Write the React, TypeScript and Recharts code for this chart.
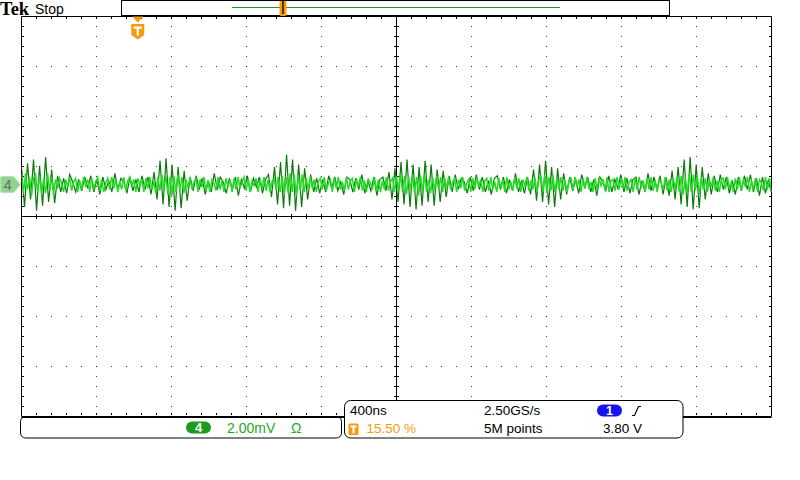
import React from "react";
import { LineChart, Line, XAxis, YAxis, ReferenceLine } from "recharts";

// ---------- scope settings ----------
const W = 800;
const H = 480;
const PLOT_LEFT = 21.5;
const PLOT_TOP = 16.5;
const PLOT_W = 750;
const PLOT_H = 400;

const H_DIVS = 10;
const V_DIVS = 8;
const TIME_PER_DIV_NS = 400;
const MV_PER_DIV = 2;
const TRIGGER_POS_PCT = 15.5;
const CH4_POSITION_DIV = 0.64;

const T_SPAN = H_DIVS * TIME_PER_DIV_NS;
const T_START = (-TRIGGER_POS_PCT / 100) * T_SPAN;
const T_END = T_START + T_SPAN;
const V_HALF = (V_DIVS / 2) * MV_PER_DIV;
const CH4_OFFSET_MV = CH4_POSITION_DIV * MV_PER_DIV;

const NS_PER_PX = T_SPAN / PLOT_W;
const MV_PER_PX = (2 * V_HALF) / PLOT_H;

const X_GRID_DIVS = [1, 2, 3, 4, 6, 7, 8, 9];
const Y_GRID_DIVS = [-3, -2, -1, 1, 2, 3];

// ---------- readout labels ----------
const SCOPE_STATE = "Stop";
const CH_LABEL = "4";
const CH_SCALE = "2.00mV";
const CH_COUPLING = "Ω";
const TIMEBASE = "400ns";
const SAMPLE_RATE = "2.50GS/s";
const RECORD_LEN = "5M points";
const TRIG_SOURCE = "1";
const TRIG_LEVEL = "3.80 V";
const TRIG_POS_LABEL = "15.50 %";

// ---------- trace (mV relative to channel ground) ----------
// less frequent excursions (dark green, intensity-graded)
const DARK_NOISE_MV = [
  0.7, -0.9, 0.85, -0.6, 1.0, -1.05, 0.75, -0.85, 1.1, -0.7,
  0.6, -0.75, 0.35, -0.3, 0.25, -0.35, 0.4, 0.1, -0.3, 0.2,
  -0.25, 0.3, -0.15, 0.35, -0.3, 0.2, -0.4, 0.3, -0.2, 0.15,
  -0.3, 0.45, -0.2, 0.25, 0.1, -0.35, 0.3, -0.25, 0.2, -0.3,
  0.35, -0.2, 0.3, -0.4, 0.5, -0.6, 0.95, -0.8, 1.05, -0.9,
  0.8, -1.05, 0.7, -0.95, 0.55, -0.65, 0.3, -0.25, 0.35, -0.2,
  0.25, -0.4, 0.15, -0.3, 0.45, -0.2, 0.3, 0.1, -0.35, 0.25,
  -0.2, 0.3, -0.45, 0.2, -0.15, 0.35, -0.3, 0.25, -0.1, 0.3,
  -0.35, 0.2, 0.4, -0.5, 0.7, -0.8, 0.9, -0.95, 1.2, -0.85,
  1.0, -1.05, 0.8, -0.9, 0.65, -0.6, 0.4, -0.3, 0.25, -0.35,
  0.2, -0.3, 0.35, -0.15, 0.3, -0.25, 0.1, -0.4, 0.3, 0.2,
  -0.3, 0.25, -0.2, 0.4, -0.35, 0.15, -0.25, 0.3, -0.45, 0.2,
  0.3, -0.25, 0.5, -0.6, 0.65, -0.7, 0.9, -0.8, 1.0, -0.9,
  0.8, -1.0, 0.7, -0.85, 0.95, -0.7, 0.8, -0.85, 0.6, -0.7,
  0.55, -0.5, 0.35, -0.3, 0.4, -0.2, 0.25, 0.1, -0.35, 0.3,
  -0.25, 0.4, -0.2, 0.3, -0.3, 0.15, -0.4, 0.25, 0.35, -0.2,
  0.3, -0.35, 0.2, -0.25, 0.45, -0.3, 0.15, -0.35, 0.3, -0.4,
  0.6, -0.65, 0.8, -0.7, 0.95, -0.8, 0.7, -0.9, 0.65, -0.6,
  0.45, -0.4, 0.3, -0.25, 0.2, -0.35, 0.4, -0.15, 0.3, -0.3,
  0.2, -0.45, 0.3, 0.1, -0.25, 0.35, -0.3, 0.2, -0.15, 0.4,
  -0.3, 0.25, -0.35, 0.2, 0.3, -0.4, 0.15, -0.3, 0.45, -0.25,
  0.3, -0.2, 0.35, -0.4, 0.3, -0.45, 0.55, -0.6, 0.7, -0.8,
  1.0, -0.9, 1.1, -1.0, 0.8, -0.95, 0.7, -0.6, 0.45, -0.4,
  0.35, -0.3, 0.4, -0.2, 0.3, -0.35, 0.15, -0.4, 0.3, -0.25,
  0.35, -0.2, 0.4, -0.3, 0.25, -0.45, 0.3, -0.35, 0.2, -0.3,
];

// dense core of the trace (bright green)
const BRIGHT_NOISE_MV = [
  0.4, -0.35, 0.45, -0.2, 0.3, -0.45, 0.25, 0.4, -0.3, 0.35, -0.4, 0.2, -0.35, 0.45, -0.25,
  0.3, -0.4, 0.2, -0.15, 0.25, 0.05, -0.3, 0.2, -0.1, 0.3, -0.25, 0.1, 0.25, -0.3, 0.15,
  -0.2, 0.3, -0.05, 0.2, -0.3, 0.25, -0.15, 0.1, 0.3, -0.25, 0.2, -0.3, 0.05, 0.25, -0.2,
  0.3, -0.15, 0.2, -0.3, 0.1, -0.2, 0.3, -0.25, 0.15, 0.3, -0.1, 0.2, -0.3, 0.25, -0.05,
  0.2, -0.3, 0.25, -0.15, 0.3, -0.2, 0.1, -0.35, 0.3, -0.25, 0.4, -0.2, 0.35, -0.4, 0.3,
  -0.45, 0.35, -0.3, 0.4, -0.25, 0.3, -0.35, 0.2, -0.15, 0.3, -0.2, 0.1, 0.25, -0.3, 0.2,
  -0.1, 0.3, -0.25, 0.15, -0.3, 0.2, 0.05, -0.25, 0.3, -0.2, 0.15, -0.3, 0.25, -0.1, 0.2,
  -0.3, 0.25, -0.2, 0.3, -0.15, 0.1, 0.3, -0.25, 0.2, -0.3, 0.15, -0.05, 0.25, -0.3, 0.2,
  -0.15, 0.3, -0.25, 0.2, -0.3, 0.15, 0.25, -0.2, 0.3, -0.3, 0.35, -0.4, 0.3, -0.35, 0.45,
  -0.3, 0.4, -0.45, 0.35, -0.25, 0.4, -0.3, 0.25, -0.2, 0.3, -0.15, 0.2, -0.3, 0.1, 0.25,
  -0.2, 0.3, -0.25, 0.05, 0.2, -0.3, 0.25, -0.15, 0.3, -0.2, 0.1, -0.25, 0.3, -0.2, 0.15,
  0.25, -0.3, 0.2, -0.1, 0.3, -0.25, 0.15, -0.3, 0.2, 0.05, -0.2, 0.3, -0.25, 0.2, -0.3,
  0.15, -0.2, 0.3, -0.25, 0.1, 0.25, -0.3, 0.35, -0.25, 0.4, -0.3, 0.35, -0.4, 0.3, -0.2,
  0.4, -0.35, 0.3, -0.45, 0.35, -0.25, 0.4, -0.3, 0.2, -0.35, 0.3, -0.25, 0.35, -0.2, 0.3,
  -0.3, 0.25, -0.15, 0.3, -0.2, 0.1, 0.25, -0.3, 0.2, -0.15, 0.3, -0.25, 0.05, 0.2, -0.3,
  0.25, -0.2, 0.3, -0.1, 0.2, -0.3, 0.15, 0.25, -0.25, 0.3, -0.2, 0.1, -0.3, 0.25, -0.15,
  0.2, -0.3, 0.3, -0.2, 0.1, -0.25, 0.3, -0.15, 0.25, -0.3, 0.2, -0.05, 0.3, -0.25, 0.15,
  -0.2, 0.3, -0.3, 0.2, 0.35, -0.3, 0.4, -0.35, 0.3, -0.25, 0.4, -0.3, 0.25, -0.2, 0.3,
  -0.25, 0.2, -0.3, 0.15, 0.25, -0.2, 0.3, -0.1, 0.2, -0.3, 0.25, -0.15, 0.3, -0.2, 0.1,
  -0.3, 0.25, -0.2, 0.3, -0.05, 0.2, -0.25, 0.3, -0.3, 0.15, 0.2, -0.25, 0.3, -0.2, 0.25,
  -0.15, 0.3, -0.25, 0.1, 0.2, -0.3, 0.25, -0.2, 0.3, -0.1, 0.15, -0.3, 0.25, -0.2, 0.3,
  -0.25, 0.15, -0.3, 0.2, 0.05, -0.2, 0.3, -0.25, 0.2, -0.3, 0.25, -0.15, 0.3, -0.3, 0.35,
  -0.4, 0.3, -0.35, 0.45, -0.3, 0.4, -0.25, 0.35, -0.4, 0.3, -0.2, 0.25, -0.3, 0.2, -0.1,
  0.3, -0.25, 0.15, -0.3, 0.2, 0.25, -0.2, 0.3, -0.15, 0.1, -0.3, 0.25, -0.2, 0.3, -0.25,
  0.2, -0.1, 0.3, -0.3, 0.15, -0.2, 0.25, -0.3, 0.2, 0.05, -0.25, 0.3, -0.2, 0.25, -0.3,
];

const toSeries = (vals: number[]) =>
  vals.map((v, i) => ({
    t: T_START + (i * T_SPAN) / (vals.length - 1),
    v: v + CH4_OFFSET_MV,
  }));

const darkData = toSeries(DARK_NOISE_MV);
const brightData = toSeries(BRIGHT_NOISE_MV);

const ORANGE = "#f89a10";
const GREEN_TXT = "#1fa81f";
const FONT = "'Liberation Sans', Arial, sans-serif";

const DOT_H = "0.5 14 0.5 0"; // dots every 1/5 div horizontally (15px)
const DOT_V = "0.5 9 0.5 0"; // dots every 1/5 div vertically (10px)

function Overlay() {
  const tx = PLOT_LEFT + (TRIGGER_POS_PCT / 100) * PLOT_W;
  const gy = PLOT_TOP + PLOT_H / 2 - CH4_POSITION_DIV * (PLOT_H / V_DIVS);
  return (
    <svg
      width={W}
      height={H}
      style={{ position: "absolute", left: 0, top: 0, pointerEvents: "none" }}
    >
      {/* header */}
      <text x={0} y={15} fontFamily="'Liberation Serif', serif" fontWeight="bold" fontSize={18.5} fill="#000">
        Tek
      </text>
      <text x={35} y={13.5} fontFamily={FONT} fontSize={14} fill="#000">
        {SCOPE_STATE}
      </text>

      {/* record bar */}
      <rect x={121.5} y={0.5} width={548} height={15} fill="#fff" stroke="#000" strokeWidth={1} />
      <line x1={232} y1={7.5} x2={560} y2={7.5} stroke="#1a9a1a" strokeWidth={1.2} />
      <rect x={279.5} y={1} width={7} height={15} rx={1.5} fill={ORANGE} />
      <line x1={283} y1={0.5} x2={283} y2={14} stroke="#000" strokeWidth={1.3} />

      {/* trigger position marker */}
      <path d={`M${tx - 5.5},16.5 L${tx + 5.5},16.5 L${tx},22.5 Z`} fill={ORANGE} />
      <path
        d={`M${tx - 6.5},24 H${tx + 6.5} V35 L${tx},39.5 L${tx - 6.5},35 Z`}
        fill={ORANGE}
      />
      <rect x={tx - 4} y={26.5} width={8} height={2.2} fill="#fff" />
      <rect x={tx - 1.1} y={26.5} width={2.2} height={9} fill="#fff" />

      {/* channel 4 ground marker */}
      <path
        d={`M2,${gy - 8} L13.5,${gy - 8} L20.5,${gy} L13.5,${gy + 8} L2,${gy + 8} Q0.5,${gy + 8} 0.5,${gy + 6.5} L0.5,${gy - 6.5} Q0.5,${gy - 8} 2,${gy - 8} Z`}
        fill="#8fd48f"
        stroke="#b5e5b5"
        strokeWidth={1}
      />
      <text x={3.5} y={gy + 5.5} fontFamily={FONT} fontSize={15} fill="#6b6b6b">
        {CH_LABEL}
      </text>

      {/* bottom-left channel readout */}
      <rect x={20.5} y={416.5} width={321} height={21.5} rx={5} fill="none" stroke="#000" strokeWidth={1} />
      <rect x={186} y={421.5} width={25} height={12} rx={6} fill="#1c9c1c" />
      <text x={198.5} y={432.3} textAnchor="middle" fontFamily={FONT} fontWeight="bold" fontSize={13} fill="#fff">
        {CH_LABEL}
      </text>
      <text x={227} y={432.5} fontFamily={FONT} fontSize={14} fill={GREEN_TXT}>
        {CH_SCALE}
      </text>
      <text x={291} y={432.5} fontFamily={FONT} fontSize={14} fill={GREEN_TXT}>
        {CH_COUPLING}
      </text>

      {/* bottom-right horizontal / trigger readout */}
      <rect x={344.5} y={400.5} width={338.5} height={37.5} rx={6} fill="#fff" stroke="#000" strokeWidth={1} />
      <text x={350} y={415} fontFamily={FONT} fontSize={13.5} fill="#000">
        {TIMEBASE}
      </text>
      <text x={484} y={415} fontFamily={FONT} fontSize={13.5} fill="#000">
        {SAMPLE_RATE}
      </text>
      <rect x={597} y={404.5} width={25} height={12} rx={6} fill="#1414f0" />
      <text x={609.5} y={415} textAnchor="middle" fontFamily={FONT} fontWeight="bold" fontSize={12.5} fill="#fff">
        {TRIG_SOURCE}
      </text>
      <path d="M632,415.5 L634.5,415.5 L638.5,406.5 L641,406.5" fill="none" stroke="#000" strokeWidth={1.2} />

      <rect x={348.5} y={423.5} width={10} height={11.5} rx={1.5} fill={ORANGE} />
      <rect x={350.5} y={425.5} width={6} height={2} fill="#fff" />
      <rect x={352.5} y={425.5} width={2} height={8} fill="#fff" />
      <text x={366.5} y={432.5} fontFamily={FONT} fontSize={13.5} fill={ORANGE}>
        {TRIG_POS_LABEL}
      </text>
      <text x={484} y={432.5} fontFamily={FONT} fontSize={13.5} fill="#000">
        {RECORD_LEN}
      </text>
      <text x={603} y={432.5} fontFamily={FONT} fontSize={13.5} fill="#000">
        {TRIG_LEVEL}
      </text>
    </svg>
  );
}

export default function App() {
  const xCenter = T_START + (H_DIVS / 2) * TIME_PER_DIV_NS;
  const xGrid = X_GRID_DIVS.map((k) => T_START + k * TIME_PER_DIV_NS);
  const yGrid = Y_GRID_DIVS.map((k) => k * MV_PER_DIV);
  return (
    <div style={{ position: "relative", width: W, height: H, background: "#fff" }}>
      <style>{"body{margin:0;background:#fff}"}</style>
      <LineChart
        width={W}
        height={H}
        margin={{
          top: PLOT_TOP,
          left: PLOT_LEFT,
          right: W - PLOT_LEFT - PLOT_W,
          bottom: H - PLOT_TOP - PLOT_H,
        }}
      >
        <XAxis type="number" dataKey="t" domain={[T_START, T_END]} hide allowDataOverflow />
        <YAxis type="number" dataKey="v" domain={[-V_HALF, V_HALF]} hide allowDataOverflow />

        {/* dotted graticule */}
        {xGrid.map((x) => (
          <ReferenceLine key={`gx${x}`} x={x} stroke="#000" strokeWidth={1} strokeDasharray={DOT_V} />
        ))}
        {yGrid.map((y) => (
          <ReferenceLine key={`gy${y}`} y={y} stroke="#000" strokeWidth={1} strokeDasharray={DOT_H} />
        ))}

        {/* border minor ticks */}
        <ReferenceLine x={T_START + 1.5 * NS_PER_PX} stroke="#000" strokeWidth={2} strokeDasharray={DOT_V} />
        <ReferenceLine x={T_END - 1.5 * NS_PER_PX} stroke="#000" strokeWidth={2} strokeDasharray={DOT_V} />
        <ReferenceLine y={V_HALF - 1.5 * MV_PER_PX} stroke="#000" strokeWidth={2} strokeDasharray={DOT_H} />
        <ReferenceLine y={-V_HALF + 2.5 * MV_PER_PX} stroke="#000" strokeWidth={2} strokeDasharray={DOT_H} />

        {/* center cross with ticks */}
        <ReferenceLine y={0} stroke="#000" strokeWidth={1} />
        <ReferenceLine y={0} stroke="#000" strokeWidth={5} strokeDasharray={DOT_H} />
        <ReferenceLine x={xCenter} stroke="#000" strokeWidth={1} />
        <ReferenceLine x={xCenter} stroke="#000" strokeWidth={5} strokeDasharray={DOT_V} />

        {/* frame */}
        <ReferenceLine x={T_START} stroke="#000" strokeWidth={1} />
        <ReferenceLine x={T_END} stroke="#000" strokeWidth={1} />
        <ReferenceLine y={V_HALF} stroke="#000" strokeWidth={1} />
        <ReferenceLine
          y={-V_HALF - 0.5 * MV_PER_PX}
          stroke="#000"
          strokeWidth={2}
          ifOverflow="visible"
        />

        {/* channel 4 trace */}
        <Line
          data={darkData}
          dataKey="v"
          type="linear"
          stroke="#0a7a0a"
          strokeWidth={1.2}
          dot={false}
          activeDot={false}
          isAnimationActive={false}
        />
        <Line
          data={brightData}
          dataKey="v"
          type="linear"
          stroke="#22dd22"
          strokeWidth={1.5}
          dot={false}
          activeDot={false}
          isAnimationActive={false}
        />
      </LineChart>
      <Overlay />
    </div>
  );
}
